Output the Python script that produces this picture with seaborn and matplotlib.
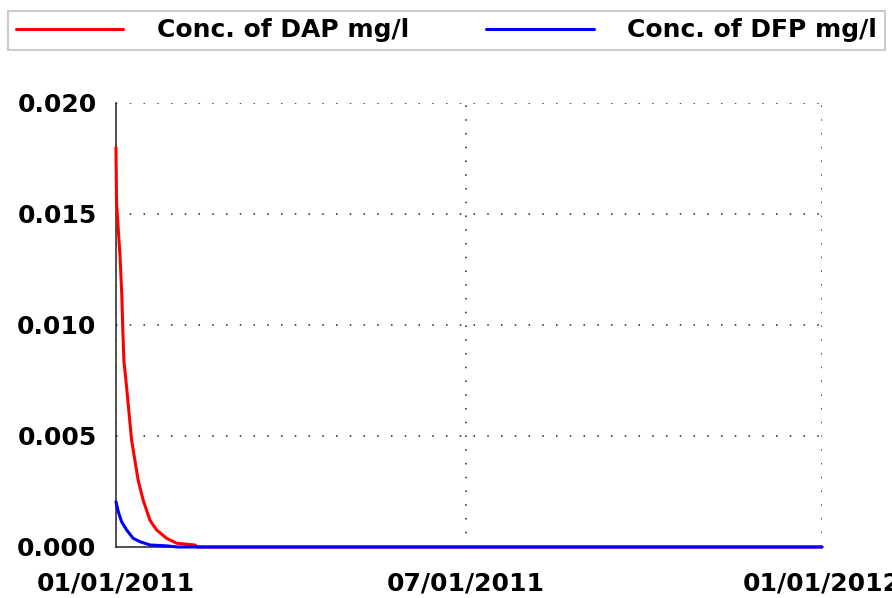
import seaborn as sns
import matplotlib.pyplot as plt
import matplotlib.dates as mdates
from matplotlib.ticker import MultipleLocator
import pandas as pd

# days after 01/01/2011 and concentrations
dap_days = [0, 0.3, 1.2, 2.1, 3.0, 3.5, 4.1, 5.5, 6.9, 8.1, 9.8, 11.5, 14.1, 17.6,
            21.0, 26.2, 31.4, 40.8, 42.0, 365]
dap_conc = [0.0180, 0.0155, 0.0143, 0.0131, 0.0114, 0.0099, 0.0084, 0.0072, 0.0059,
            0.0048, 0.0039, 0.0030, 0.0021, 0.0012, 0.00077, 0.00039, 0.00017,
            0.00009, 0.0, 0.0]
dfp_days = [0, 1.2, 2.9, 5.5, 8.9, 12.4, 17.6, 26.2, 32.0, 365]
dfp_conc = [0.00204, 0.00159, 0.00114, 0.00077, 0.00039, 0.00024, 0.00009, 0.00005,
            0.0, 0.0]
series_names = ["Conc. of DAP mg/l", "Conc. of DFP mg/l"]
series_colors = ["#ff0000", "#0000ff"]
start = pd.Timestamp("2011-01-01")

frames = []
for name, days, conc in zip(series_names, [dap_days, dfp_days], [dap_conc, dfp_conc]):
    frames.append(pd.DataFrame({
        "date": start + pd.to_timedelta(days, unit="D"),
        "value": conc,
        "series": name,
    }))
data = pd.concat(frames, ignore_index=True)

sns.set_style("white")
plt.rcParams["font.family"] = ["DejaVu Sans"]
plt.rcParams["font.weight"] = "bold"
plt.rcParams["text.color"] = "black"
plt.rcParams["xtick.color"] = "black"
plt.rcParams["ytick.color"] = "black"

fig = plt.figure(figsize=(8.92, 5.98), dpi=100)
ax = fig.add_axes([0.130, 0.0853, 0.7915, 0.7425])

sns.lineplot(data=data, x="date", y="value", hue="series", palette=series_colors,
             linewidth=2.2, ax=ax, legend=False)
for line in ax.get_lines():
    line.set_zorder(3)
    line.set_clip_on(False)

ax.set_xlim(start, pd.Timestamp("2012-01-01"))
ax.set_ylim(0, 0.020)
ax.set_xlabel("")
ax.set_ylabel("")

ax.xaxis.set_major_locator(mdates.MonthLocator(bymonth=[1, 7]))
ax.xaxis.set_minor_locator(mdates.MonthLocator(bymonth=[4, 10]))
ax.xaxis.set_major_formatter(mdates.DateFormatter("%m/%d/%Y"))
ax.yaxis.set_major_locator(MultipleLocator(0.005))
ax.yaxis.set_minor_locator(MultipleLocator(0.0025))
ax.yaxis.set_major_formatter(plt.FormatStrFormatter("%.3f"))

ax.tick_params(axis="both", which="both", direction="inout", length=8, width=1,
               color="#333333", labelsize=18, labelcolor="black")
ax.tick_params(axis="x", pad=14)
ax.tick_params(axis="y", pad=10)
for lab in ax.get_xticklabels() + ax.get_yticklabels():
    lab.set_fontweight("bold")

ax.grid(True, which="major", color="#222222", linestyle=(0, (1, 8)), linewidth=1.1)
for side in ["top", "right"]:
    ax.spines[side].set_visible(False)
for side in ["left", "bottom"]:
    ax.spines[side].set_color("#333333")
    ax.spines[side].set_linewidth(1.2)

handles = [plt.Line2D([], [], color=c, linewidth=2.2) for c in series_colors]
leg = fig.legend(handles, series_names, loc="lower left", ncol=2, mode="expand",
                 bbox_to_anchor=(0.009, 0.9164, 0.983, 0.080), borderaxespad=0,
                 frameon=True, fancybox=False, handlelength=4.3, handletextpad=1.35,
                 borderpad=0.3, prop={"size": 18, "weight": "bold"})
leg.get_frame().set_edgecolor("#c0c0c0")
leg.get_frame().set_linewidth(1.5)
for t in leg.get_texts():
    t.set_color("black")

fig.savefig("out.png", dpi=100)
